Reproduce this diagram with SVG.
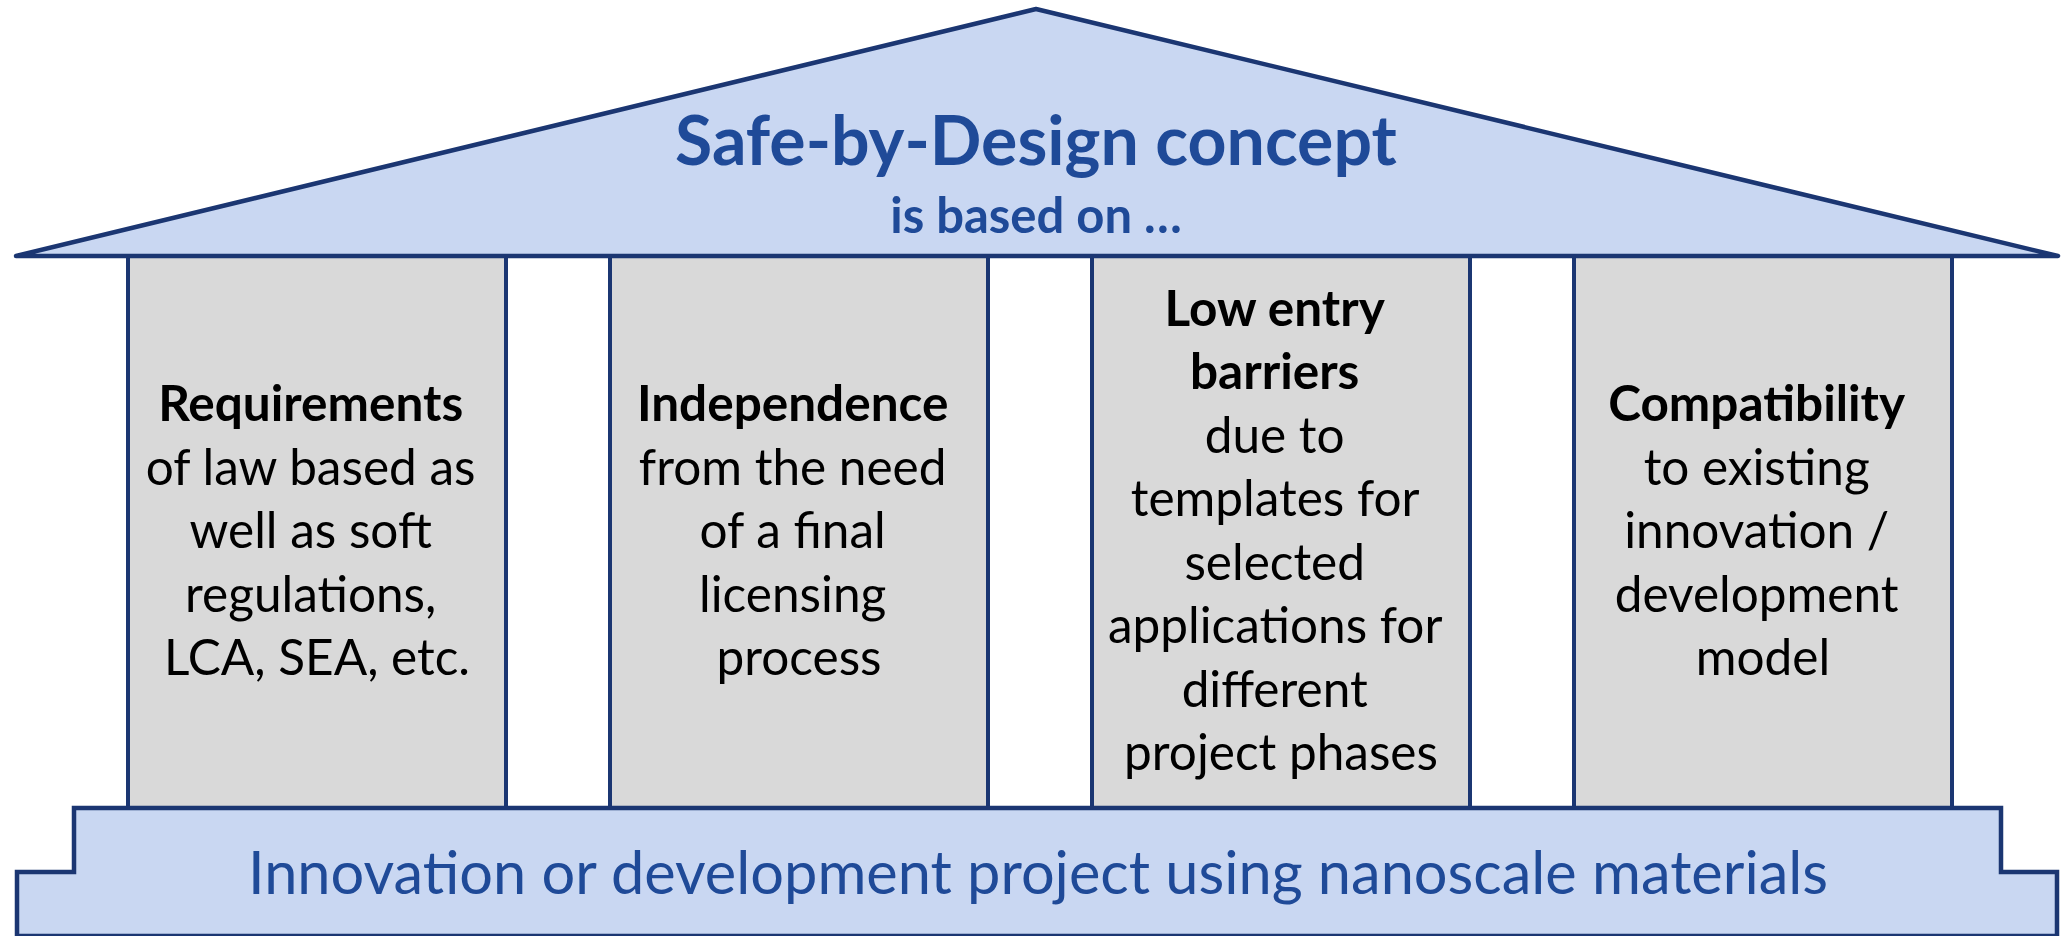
<svg xmlns="http://www.w3.org/2000/svg" width="2065" height="936" viewBox="0 0 2065 936">
  <style>
    .roof { fill: #C9D7F2; stroke: #1B3672; stroke-width: 4.5; stroke-linejoin: round; }
    .pillar { fill: #D9D9D9; stroke: #1B3672; stroke-width: 4; }
    .base { fill: #C9D7F2; stroke: #1B3672; stroke-width: 4.5; stroke-linejoin: miter; }
    .title { font-family: Lato, "Open Sans", sans-serif; font-weight: 700; fill: #1F4A98; text-anchor: middle; }
    .ptext { font-family: Lato, "Open Sans", sans-serif; font-size: 49.5px; fill: #000; text-anchor: middle; }
    .b { font-weight: 700; }
    .basetext { font-family: Lato, "Open Sans", sans-serif; font-size: 59.5px; fill: #1F4A98; text-anchor: middle; }
  </style>

  <!-- pillars -->
  <g id="pillar-requirements">
    <rect class="pillar" x="128" y="256" width="378" height="552"/>
    <text class="ptext">
      <tspan class="b" x="317" y="421">Requirements</tspan>
      <tspan x="317" y="484.5">of law based as</tspan>
      <tspan x="317" y="548">well as soft</tspan>
      <tspan x="317" y="611.5">regulations,</tspan>
      <tspan x="317" y="675">LCA, SEA, etc.</tspan>
    </text>
  </g>
  <g id="pillar-independence">
    <rect class="pillar" x="610" y="256" width="378" height="552"/>
    <text class="ptext">
      <tspan class="b" x="799" y="421">Independence</tspan>
      <tspan x="799" y="484.5">from the need</tspan>
      <tspan x="799" y="548">of a final</tspan>
      <tspan x="799" y="611.5">licensing</tspan>
      <tspan x="799" y="675">process</tspan>
    </text>
  </g>
  <g id="pillar-low-entry">
    <rect class="pillar" x="1092" y="256" width="378" height="552"/>
    <text class="ptext">
      <tspan class="b" x="1281" y="325.75">Low entry</tspan>
      <tspan class="b" x="1281" y="389.25">barriers</tspan>
      <tspan x="1281" y="452.75">due to</tspan>
      <tspan x="1281" y="516.25">templates for</tspan>
      <tspan x="1281" y="579.75">selected</tspan>
      <tspan x="1281" y="643.25">applications for</tspan>
      <tspan x="1281" y="706.75">different</tspan>
      <tspan x="1281" y="770.25">project phases</tspan>
    </text>
  </g>
  <g id="pillar-compatibility">
    <rect class="pillar" x="1574" y="256" width="378" height="552"/>
    <text class="ptext">
      <tspan class="b" x="1763" y="421">Compatibility</tspan>
      <tspan x="1763" y="484.5">to existing</tspan>
      <tspan x="1763" y="548">innovation /</tspan>
      <tspan x="1763" y="611.5">development</tspan>
      <tspan x="1763" y="675">model</tspan>
    </text>
  </g>

  <!-- roof -->
  <g id="roof">
    <polygon class="roof" points="16,256 1036,9 2058,256"/>
    <text class="title" x="1036" y="165" font-size="68">Safe-by-Design concept</text>
    <text class="title" x="1036" y="233" font-size="49">is based on …</text>
  </g>

  <!-- foundation -->
  <g id="foundation">
    <path class="base" d="M17,936 L17,872 L74,872 L74,808 L2001,808 L2001,872 L2057,872 L2057,936 Z"/>
    <text class="basetext" x="1038" y="894">Innovation or development project using nanoscale materials</text>
  </g>

  <g id="connectors"/>
</svg>
